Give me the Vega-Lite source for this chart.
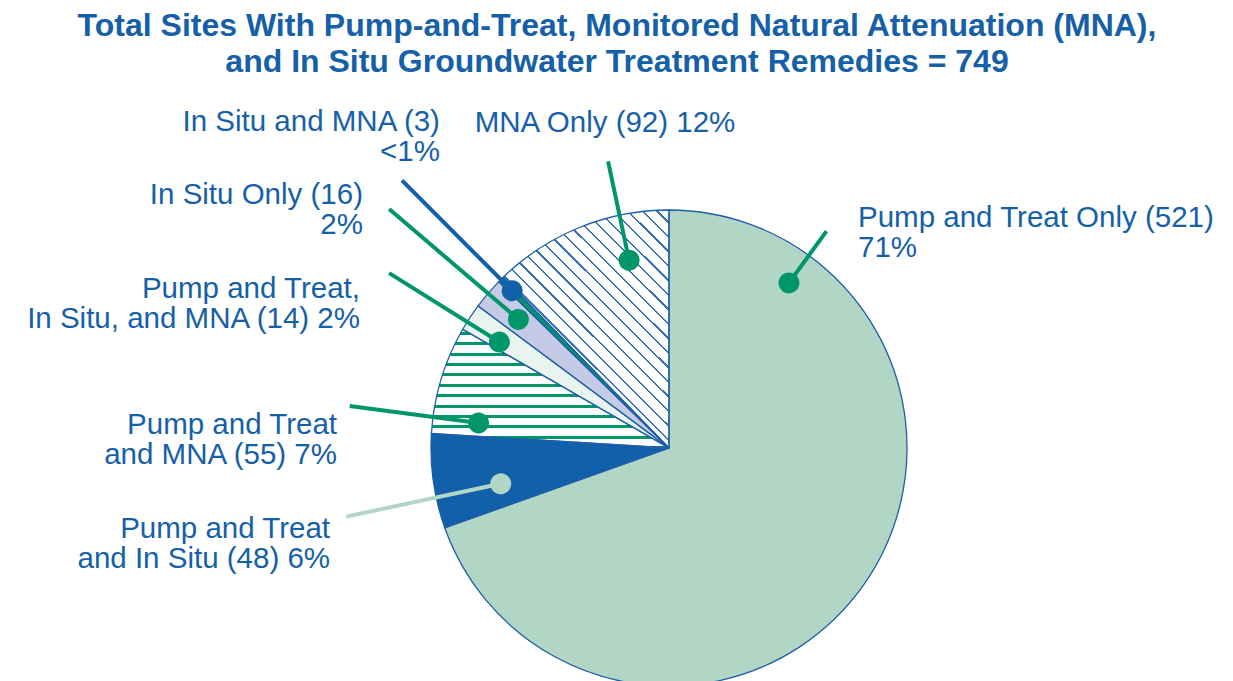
{
  "$schema": "https://vega.github.io/schema/vega-lite/v6.json",
  "autosize": {"type": "none"},
  "padding": {"left": 105, "top": 215, "right": 0, "bottom": 0},
  "width": 1128,
  "height": 466,
  "background": "white",
  "config": {"view": {"stroke": null}},
  "title": {
    "text": ["Total Sites With Pump-and-Treat, Monitored Natural Attenuation (MNA),", "and In Situ Groundwater Treatment Remedies = 749"],
    "font": "Liberation Sans", "fontSize": 32, "fontWeight": "bold", "color": "#1560a8",
    "lineHeight": 36, "anchor": "middle", "dx": -52, "offset": 28
  },
  "data": {"values": [
    {"remedy": "Pump and Treat Only", "sites": 521, "order": 1, "label": "Pump and Treat Only (521)\n71%"},
    {"remedy": "Pump and Treat and In Situ", "sites": 48, "order": 2, "label": "Pump and Treat\nand In Situ (48) 6%"},
    {"remedy": "Pump and Treat and MNA", "sites": 55, "order": 3, "label": "Pump and Treat\nand MNA (55) 7%"},
    {"remedy": "Pump and Treat, In Situ, and MNA", "sites": 14, "order": 4, "label": "Pump and Treat,\nIn Situ, and MNA (14) 2%"},
    {"remedy": "In Situ Only", "sites": 16, "order": 5, "label": "In Situ Only (16)\n2%"},
    {"remedy": "In Situ and MNA", "sites": 3, "order": 6, "label": "In Situ and MNA (3)\n<1%"},
    {"remedy": "MNA Only", "sites": 92, "order": 7, "label": "MNA Only (92) 12%"}
  ]},
  "transform": [{"stack": "sites", "groupby": [], "sort": [{"field": "order", "order": "ascending"}], "as": ["t0", "t1"]}],
  "encoding": {"theta": {"field": "t0", "type": "quantitative", "scale": {"domain": [0, 749]}}},
  "layer": [
    {
      "transform": [{"filter": {"field": "remedy", "oneOf": ["Pump and Treat Only", "Pump and Treat and In Situ", "Pump and Treat, In Situ, and MNA", "In Situ Only", "In Situ and MNA"]}}],
      "mark": {"type": "arc", "radius": 238},
      "encoding": {
        "theta2": {"field": "t1"},
        "color": {"field": "remedy", "type": "nominal", "legend": null,
          "scale": {"domain": ["Pump and Treat Only", "Pump and Treat and In Situ", "Pump and Treat, In Situ, and MNA", "In Situ Only", "In Situ and MNA"],
                    "range": ["#b1d6c6", "#1160a9", "#eaf4ef", "#c5cae6", "#00966a"]}}
      }
    },
    {
      "transform": [{"filter": {"field": "remedy", "equal": "Pump and Treat and MNA"}}],
      "mark": {"type": "arc", "radius": 238, "fill": {"gradient": "linear", "x1": 0, "y1": 0, "x2": 0, "y2": 1, "stops": [
        {"offset": 0, "color": "#ffffff"},
        {"offset": 0.0214, "color": "#ffffff"}, {"offset": 0.0214, "color": "#00966a"}, {"offset": 0.0466, "color": "#00966a"}, {"offset": 0.0466, "color": "#ffffff"},
        {"offset": 0.109, "color": "#ffffff"}, {"offset": 0.109, "color": "#00966a"}, {"offset": 0.1342, "color": "#00966a"}, {"offset": 0.1342, "color": "#ffffff"},
        {"offset": 0.1966, "color": "#ffffff"}, {"offset": 0.1966, "color": "#00966a"}, {"offset": 0.2218, "color": "#00966a"}, {"offset": 0.2218, "color": "#ffffff"},
        {"offset": 0.2842, "color": "#ffffff"}, {"offset": 0.2842, "color": "#00966a"}, {"offset": 0.3094, "color": "#00966a"}, {"offset": 0.3094, "color": "#ffffff"},
        {"offset": 0.3718, "color": "#ffffff"}, {"offset": 0.3718, "color": "#00966a"}, {"offset": 0.397, "color": "#00966a"}, {"offset": 0.397, "color": "#ffffff"},
        {"offset": 0.4594, "color": "#ffffff"}, {"offset": 0.4594, "color": "#00966a"}, {"offset": 0.4846, "color": "#00966a"}, {"offset": 0.4846, "color": "#ffffff"},
        {"offset": 0.547, "color": "#ffffff"}, {"offset": 0.547, "color": "#00966a"}, {"offset": 0.5722, "color": "#00966a"}, {"offset": 0.5722, "color": "#ffffff"},
        {"offset": 0.6346, "color": "#ffffff"}, {"offset": 0.6346, "color": "#00966a"}, {"offset": 0.6598, "color": "#00966a"}, {"offset": 0.6598, "color": "#ffffff"},
        {"offset": 0.7222, "color": "#ffffff"}, {"offset": 0.7222, "color": "#00966a"}, {"offset": 0.7474, "color": "#00966a"}, {"offset": 0.7474, "color": "#ffffff"},
        {"offset": 0.8098, "color": "#ffffff"}, {"offset": 0.8098, "color": "#00966a"}, {"offset": 0.835, "color": "#00966a"}, {"offset": 0.835, "color": "#ffffff"},
        {"offset": 0.8974, "color": "#ffffff"}, {"offset": 0.8974, "color": "#00966a"}, {"offset": 0.9226, "color": "#00966a"}, {"offset": 0.9226, "color": "#ffffff"},
        {"offset": 0.985, "color": "#ffffff"}, {"offset": 0.985, "color": "#00966a"}, {"offset": 1, "color": "#00966a"}
      ]}},
      "encoding": {"theta2": {"field": "t1"}}
    },
    {
      "transform": [{"filter": {"field": "remedy", "equal": "MNA Only"}}],
      "mark": {"type": "arc", "radius": 238, "fill": {"gradient": "linear", "x1": 0, "y1": 1, "x2": 0.8, "y2": -0.15, "stops": [
        {"offset": 0, "color": "#ffffff"},
        {"offset": 0.03, "color": "#ffffff"}, {"offset": 0.03, "color": "#3a74b8"}, {"offset": 0.03571, "color": "#3a74b8"}, {"offset": 0.03571, "color": "#ffffff"},
        {"offset": 0.06571, "color": "#ffffff"}, {"offset": 0.06571, "color": "#3a74b8"}, {"offset": 0.07143, "color": "#3a74b8"}, {"offset": 0.07143, "color": "#ffffff"},
        {"offset": 0.10143, "color": "#ffffff"}, {"offset": 0.10143, "color": "#3a74b8"}, {"offset": 0.10714, "color": "#3a74b8"}, {"offset": 0.10714, "color": "#ffffff"},
        {"offset": 0.13714, "color": "#ffffff"}, {"offset": 0.13714, "color": "#3a74b8"}, {"offset": 0.14286, "color": "#3a74b8"}, {"offset": 0.14286, "color": "#ffffff"},
        {"offset": 0.17286, "color": "#ffffff"}, {"offset": 0.17286, "color": "#3a74b8"}, {"offset": 0.17857, "color": "#3a74b8"}, {"offset": 0.17857, "color": "#ffffff"},
        {"offset": 0.20857, "color": "#ffffff"}, {"offset": 0.20857, "color": "#3a74b8"}, {"offset": 0.21429, "color": "#3a74b8"}, {"offset": 0.21429, "color": "#ffffff"},
        {"offset": 0.24429, "color": "#ffffff"}, {"offset": 0.24429, "color": "#3a74b8"}, {"offset": 0.25, "color": "#3a74b8"}, {"offset": 0.25, "color": "#ffffff"},
        {"offset": 0.28, "color": "#ffffff"}, {"offset": 0.28, "color": "#3a74b8"}, {"offset": 0.28571, "color": "#3a74b8"}, {"offset": 0.28571, "color": "#ffffff"},
        {"offset": 0.31571, "color": "#ffffff"}, {"offset": 0.31571, "color": "#3a74b8"}, {"offset": 0.32143, "color": "#3a74b8"}, {"offset": 0.32143, "color": "#ffffff"},
        {"offset": 0.35143, "color": "#ffffff"}, {"offset": 0.35143, "color": "#3a74b8"}, {"offset": 0.35714, "color": "#3a74b8"}, {"offset": 0.35714, "color": "#ffffff"},
        {"offset": 0.38714, "color": "#ffffff"}, {"offset": 0.38714, "color": "#3a74b8"}, {"offset": 0.39286, "color": "#3a74b8"}, {"offset": 0.39286, "color": "#ffffff"},
        {"offset": 0.42286, "color": "#ffffff"}, {"offset": 0.42286, "color": "#3a74b8"}, {"offset": 0.42857, "color": "#3a74b8"}, {"offset": 0.42857, "color": "#ffffff"},
        {"offset": 0.45857, "color": "#ffffff"}, {"offset": 0.45857, "color": "#3a74b8"}, {"offset": 0.46429, "color": "#3a74b8"}, {"offset": 0.46429, "color": "#ffffff"},
        {"offset": 0.49429, "color": "#ffffff"}, {"offset": 0.49429, "color": "#3a74b8"}, {"offset": 0.5, "color": "#3a74b8"}, {"offset": 0.5, "color": "#ffffff"},
        {"offset": 0.53, "color": "#ffffff"}, {"offset": 0.53, "color": "#3a74b8"}, {"offset": 0.53571, "color": "#3a74b8"}, {"offset": 0.53571, "color": "#ffffff"},
        {"offset": 0.56571, "color": "#ffffff"}, {"offset": 0.56571, "color": "#3a74b8"}, {"offset": 0.57143, "color": "#3a74b8"}, {"offset": 0.57143, "color": "#ffffff"},
        {"offset": 0.60143, "color": "#ffffff"}, {"offset": 0.60143, "color": "#3a74b8"}, {"offset": 0.60714, "color": "#3a74b8"}, {"offset": 0.60714, "color": "#ffffff"},
        {"offset": 0.63714, "color": "#ffffff"}, {"offset": 0.63714, "color": "#3a74b8"}, {"offset": 0.64286, "color": "#3a74b8"}, {"offset": 0.64286, "color": "#ffffff"},
        {"offset": 0.67286, "color": "#ffffff"}, {"offset": 0.67286, "color": "#3a74b8"}, {"offset": 0.67857, "color": "#3a74b8"}, {"offset": 0.67857, "color": "#ffffff"},
        {"offset": 0.70857, "color": "#ffffff"}, {"offset": 0.70857, "color": "#3a74b8"}, {"offset": 0.71429, "color": "#3a74b8"}, {"offset": 0.71429, "color": "#ffffff"},
        {"offset": 0.74429, "color": "#ffffff"}, {"offset": 0.74429, "color": "#3a74b8"}, {"offset": 0.75, "color": "#3a74b8"}, {"offset": 0.75, "color": "#ffffff"},
        {"offset": 0.78, "color": "#ffffff"}, {"offset": 0.78, "color": "#3a74b8"}, {"offset": 0.78571, "color": "#3a74b8"}, {"offset": 0.78571, "color": "#ffffff"},
        {"offset": 0.81571, "color": "#ffffff"}, {"offset": 0.81571, "color": "#3a74b8"}, {"offset": 0.82143, "color": "#3a74b8"}, {"offset": 0.82143, "color": "#ffffff"},
        {"offset": 0.85143, "color": "#ffffff"}, {"offset": 0.85143, "color": "#3a74b8"}, {"offset": 0.85714, "color": "#3a74b8"}, {"offset": 0.85714, "color": "#ffffff"},
        {"offset": 0.88714, "color": "#ffffff"}, {"offset": 0.88714, "color": "#3a74b8"}, {"offset": 0.89286, "color": "#3a74b8"}, {"offset": 0.89286, "color": "#ffffff"},
        {"offset": 0.92286, "color": "#ffffff"}, {"offset": 0.92286, "color": "#3a74b8"}, {"offset": 0.92857, "color": "#3a74b8"}, {"offset": 0.92857, "color": "#ffffff"},
        {"offset": 0.95857, "color": "#ffffff"}, {"offset": 0.95857, "color": "#3a74b8"}, {"offset": 0.96429, "color": "#3a74b8"}, {"offset": 0.96429, "color": "#ffffff"},
        {"offset": 0.99429, "color": "#ffffff"}, {"offset": 0.99429, "color": "#3a74b8"}, {"offset": 1, "color": "#3a74b8"}
      ]}},
      "encoding": {"theta2": {"field": "t1"}}
    },
    {
      "mark": {"type": "arc", "radius": 238, "fill": "#ffffff", "fillOpacity": 0, "stroke": "#1f5fa8", "strokeWidth": 1.3},
      "encoding": {"theta2": {"field": "t1"}}
    },
    {
      "transform": [{"filter": {"field": "remedy", "equal": "Pump and Treat Only"}}],
      "layer": [
        {"mark": {"type": "arc", "radius": 268, "radius2": 204, "thetaOffset": 0.62832, "theta2Offset": 0.62832, "fill": "#ffffff", "fillOpacity": 0, "stroke": "#00966a", "strokeWidth": 4}, "encoding": {"theta2": {"field": "t0"}}},
        {"mark": {"type": "arc", "radius": 214.5, "radius2": 193.5, "thetaOffset": 0.57685, "theta2Offset": 0.67979, "cornerRadius": 10.5, "fill": "#00966a"}, "encoding": {"theta2": {"field": "t0"}}},
        {"mark": {"type": "text", "radius": 290.8, "thetaOffset": 0.70756, "align": "left", "baseline": "alphabetic", "font": "Liberation Sans", "fontSize": 29.5, "lineHeight": 30, "lineBreak": "\n", "color": "#1560a8"}, "encoding": {"text": {"field": "label"}}}
      ]
    },
    {
      "transform": [{"filter": {"field": "remedy", "equal": "Pump and Treat and In Situ"}}],
      "layer": [
        {"mark": {"type": "arc", "radius": 330, "radius2": 172, "thetaOffset": 0.1324, "theta2Offset": 0.1324, "fill": "#ffffff", "fillOpacity": 0, "stroke": "#b1d6c6", "strokeWidth": 4}, "encoding": {"theta2": {"field": "t0"}}},
        {"mark": {"type": "arc", "radius": 182.5, "radius2": 161.5, "thetaOffset": 0.07135, "theta2Offset": 0.19345, "cornerRadius": 10.5, "fill": "#b1d6c6"}, "encoding": {"theta2": {"field": "t0"}}},
        {"mark": {"type": "text", "radius": 350.7, "thetaOffset": 0.08231, "align": "right", "baseline": "alphabetic", "font": "Liberation Sans", "fontSize": 29.5, "lineHeight": 30, "lineBreak": "\n", "color": "#1560a8"}, "encoding": {"text": {"field": "label"}}}
      ]
    },
    {
      "transform": [{"filter": {"field": "remedy", "equal": "Pump and Treat and MNA"}}],
      "layer": [
        {"mark": {"type": "arc", "radius": 322, "radius2": 192, "thetaOffset": 0.07008, "theta2Offset": 0.07008, "fill": "#ffffff", "fillOpacity": 0, "stroke": "#00966a", "strokeWidth": 4}, "encoding": {"theta2": {"field": "t0"}}},
        {"mark": {"type": "arc", "radius": 202.5, "radius2": 181.5, "thetaOffset": 0.01539, "theta2Offset": 0.12477, "cornerRadius": 10.5, "fill": "#00966a"}, "encoding": {"theta2": {"field": "t0"}}},
        {"mark": {"type": "text", "radius": 332.3, "thetaOffset": -0.01876, "align": "right", "baseline": "alphabetic", "font": "Liberation Sans", "fontSize": 29.5, "lineHeight": 30, "lineBreak": "\n", "color": "#1560a8"}, "encoding": {"text": {"field": "label"}}}
      ]
    },
    {
      "transform": [{"filter": {"field": "remedy", "equal": "Pump and Treat, In Situ, and MNA"}}],
      "layer": [
        {"mark": {"type": "arc", "radius": 330, "radius2": 200, "thetaOffset": 0.0363, "theta2Offset": 0.0363, "fill": "#ffffff", "fillOpacity": 0, "stroke": "#00966a", "strokeWidth": 4}, "encoding": {"theta2": {"field": "t0"}}},
        {"mark": {"type": "arc", "radius": 210.5, "radius2": 189.5, "thetaOffset": -0.0162, "theta2Offset": 0.0888, "cornerRadius": 10.5, "fill": "#00966a"}, "encoding": {"theta2": {"field": "t0"}}},
        {"mark": {"type": "text", "radius": 343.5, "thetaOffset": -0.07016, "align": "right", "baseline": "alphabetic", "font": "Liberation Sans", "fontSize": 29.5, "lineHeight": 30, "lineBreak": "\n", "color": "#1560a8"}, "encoding": {"text": {"field": "label"}}}
      ]
    },
    {
      "transform": [{"filter": {"field": "remedy", "equal": "In Situ Only"}}],
      "layer": [
        {"mark": {"type": "arc", "radius": 368, "radius2": 198, "thetaOffset": 0.06721, "theta2Offset": 0.06721, "fill": "#ffffff", "fillOpacity": 0, "stroke": "#00966a", "strokeWidth": 4}, "encoding": {"theta2": {"field": "t0"}}},
        {"mark": {"type": "arc", "radius": 208.5, "radius2": 187.5, "thetaOffset": 0.01418, "theta2Offset": 0.12024, "cornerRadius": 10.5, "fill": "#00966a"}, "encoding": {"theta2": {"field": "t0"}}},
        {"mark": {"type": "text", "radius": 391.4, "thetaOffset": 0.03353, "align": "right", "baseline": "alphabetic", "font": "Liberation Sans", "fontSize": 29.5, "lineHeight": 30, "lineBreak": "\n", "color": "#1560a8"}, "encoding": {"text": {"field": "label"}}}
      ]
    },
    {
      "transform": [{"filter": {"field": "remedy", "equal": "In Situ and MNA"}}],
      "layer": [
        {"mark": {"type": "arc", "radius": 378, "radius2": 222, "thetaOffset": 0.01258, "theta2Offset": 0.01258, "fill": "#ffffff", "fillOpacity": 0, "stroke": "#1160a9", "strokeWidth": 4}, "encoding": {"theta2": {"field": "t0"}}},
        {"mark": {"type": "arc", "radius": 232.5, "radius2": 211.5, "thetaOffset": -0.03472, "theta2Offset": 0.05988, "cornerRadius": 10.5, "fill": "#1160a9"}, "encoding": {"theta2": {"field": "t0"}}},
        {"mark": {"type": "text", "radius": 391.1, "thetaOffset": 0.17122, "align": "right", "baseline": "alphabetic", "font": "Liberation Sans", "fontSize": 29.5, "lineHeight": 30, "lineBreak": "\n", "color": "#1560a8"}, "encoding": {"text": {"field": "label"}}}
      ]
    },
    {
      "transform": [{"filter": {"field": "remedy", "equal": "MNA Only"}}],
      "layer": [
        {"mark": {"type": "arc", "radius": 293, "radius2": 192, "thetaOffset": 0.56232, "theta2Offset": 0.56232, "fill": "#ffffff", "fillOpacity": 0, "stroke": "#00966a", "strokeWidth": 4}, "encoding": {"theta2": {"field": "t0"}}},
        {"mark": {"type": "arc", "radius": 202.5, "radius2": 181.5, "thetaOffset": 0.50763, "theta2Offset": 0.61701, "cornerRadius": 10.5, "fill": "#00966a"}, "encoding": {"theta2": {"field": "t0"}}},
        {"mark": {"type": "text", "radius": 322.4, "thetaOffset": 0.57193, "align": "center", "baseline": "alphabetic", "font": "Liberation Sans", "fontSize": 29.5, "lineHeight": 30, "lineBreak": "\n", "color": "#1560a8"}, "encoding": {"text": {"field": "label"}}}
      ]
    }
  ]
}
